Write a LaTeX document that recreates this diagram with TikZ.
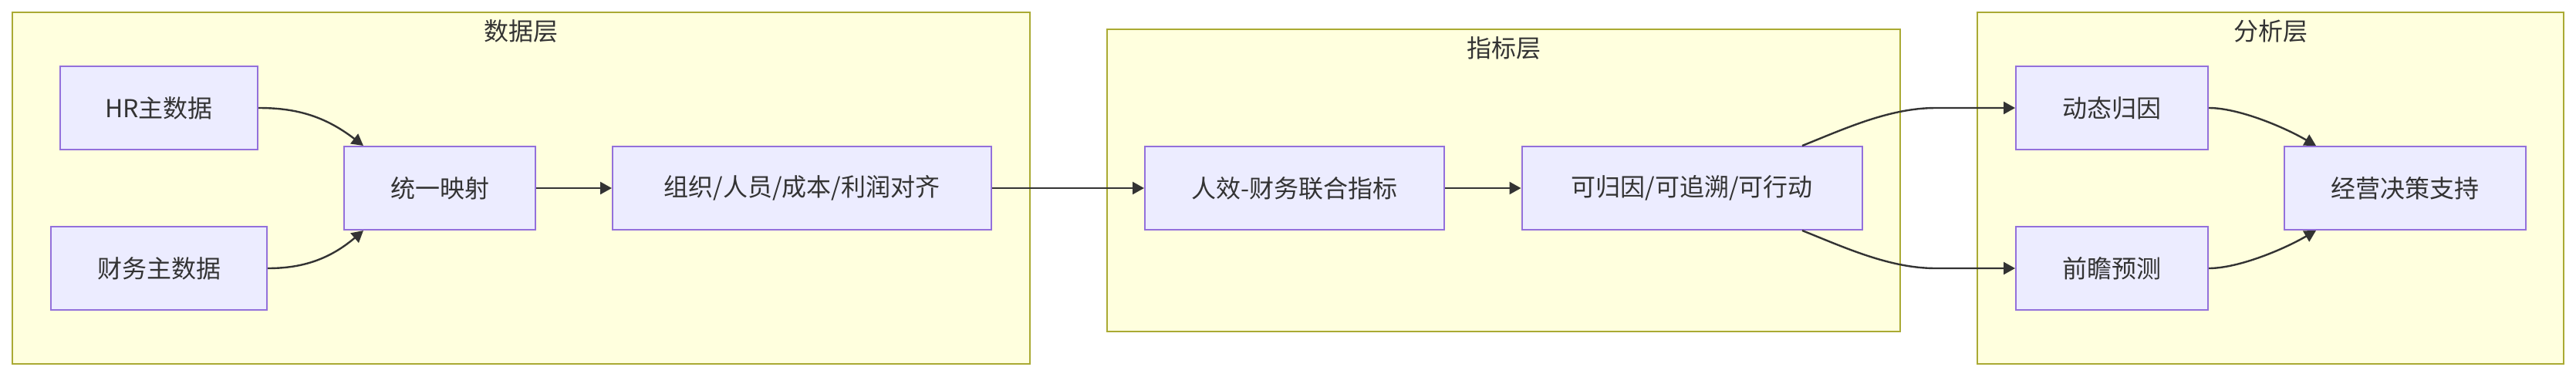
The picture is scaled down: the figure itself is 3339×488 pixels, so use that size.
\documentclass[tikz,border=0pt]{standalone}
\usepackage{fontspec}
\setmainfont{Noto Sans CJK SC}
\usetikzlibrary{arrows.meta,calc}
\definecolor{nodefill}{HTML}{ECECFF}
\definecolor{nodestroke}{HTML}{9370DB}
\definecolor{clfill}{HTML}{FFFFDE}
\definecolor{clstroke}{HTML}{AAAA33}
\definecolor{txt}{HTML}{333333}
\tikzset{
  box/.style={draw=nodestroke, fill=nodefill, line width=1pt, text=txt,
    font=\fontsize{16}{19}\selectfont, inner sep=0pt, minimum height=54pt, rectangle},
  cluster/.style={draw=clstroke, fill=clfill, line width=1pt},
  cltitle/.style={text=txt, font=\fontsize{16}{19}\selectfont, inner sep=0pt},
  edge/.style={draw=txt, line width=1.2pt, -{Triangle[length=7.5pt,width=8pt]}}
}
\begin{document}
\begin{tikzpicture}[x=0.5pt,y=-0.5pt]
\fill[white] (0,0) rectangle (3339,488);
\useasboundingbox (0,0) rectangle (3339,488);
% clusters
\draw[cluster] (16,16) rectangle (1335,472);
\draw[cluster] (1435,38) rectangle (2463,430);
\draw[cluster] (2563,16) rectangle (3323,472);
\node[cltitle] (t1) at (675.5,40) {数据层};
\node[cltitle] (t2) at (1949,62) {指标层};
\node[cltitle] (t3) at (2943,40) {分析层};
% nodes
\node[box, minimum width=128pt] (hr) at (206,140) {HR主数据};
\node[box, minimum width=140pt] (cw) at (206,348) {财务主数据};
\node[box, minimum width=124pt] (ty) at (570,244) {统一映射};
\node[box, minimum width=245.5pt] (zz) at (1039.5,244) {组织/人员/成本/利润对齐};
\node[box, minimum width=194pt] (rx) at (1678,244) {人效-财务联合指标};
\node[box, minimum width=220.5pt] (kg) at (2193,244) {可归因/可追溯/可行动};
\node[box, minimum width=124.5pt] (dt) at (2737.5,140) {动态归因};
\node[box, minimum width=124.5pt] (qz) at (2737.5,348) {前瞻预测};
\node[box, minimum width=156.5pt] (jy) at (3117.5,244) {经营决策支持};
% edges
\draw[edge] (hr.east) .. controls +(46,0) and +(-52,-40) .. ($(ty.north west)+(26,0)$);
\draw[edge] (cw.east) .. controls +(40,0) and +(-47,40) .. ($(ty.south west)+(26,0)$);
\draw[edge] (ty) -- (zz);
\draw[edge] (zz) -- (rx);
\draw[edge] (rx) -- (kg);
\draw[edge] ($(kg.north east)+(-78.5,0)$) .. controls +(55,-22) and +(-60,0) .. ($(dt.west)+(-103,0)$) -- (dt.west);
\draw[edge] ($(kg.south east)+(-78.5,0)$) .. controls +(55,22) and +(-60,0) .. ($(qz.west)+(-103,0)$) -- (qz.west);
\draw[edge] (dt.east) .. controls +(38,0) and +(-43,-25) .. ($(jy.north west)+(42,0)$);
\draw[edge] (qz.east) .. controls +(38,0) and +(-43,25) .. ($(jy.south west)+(42,0)$);
\end{tikzpicture}
\end{document}
